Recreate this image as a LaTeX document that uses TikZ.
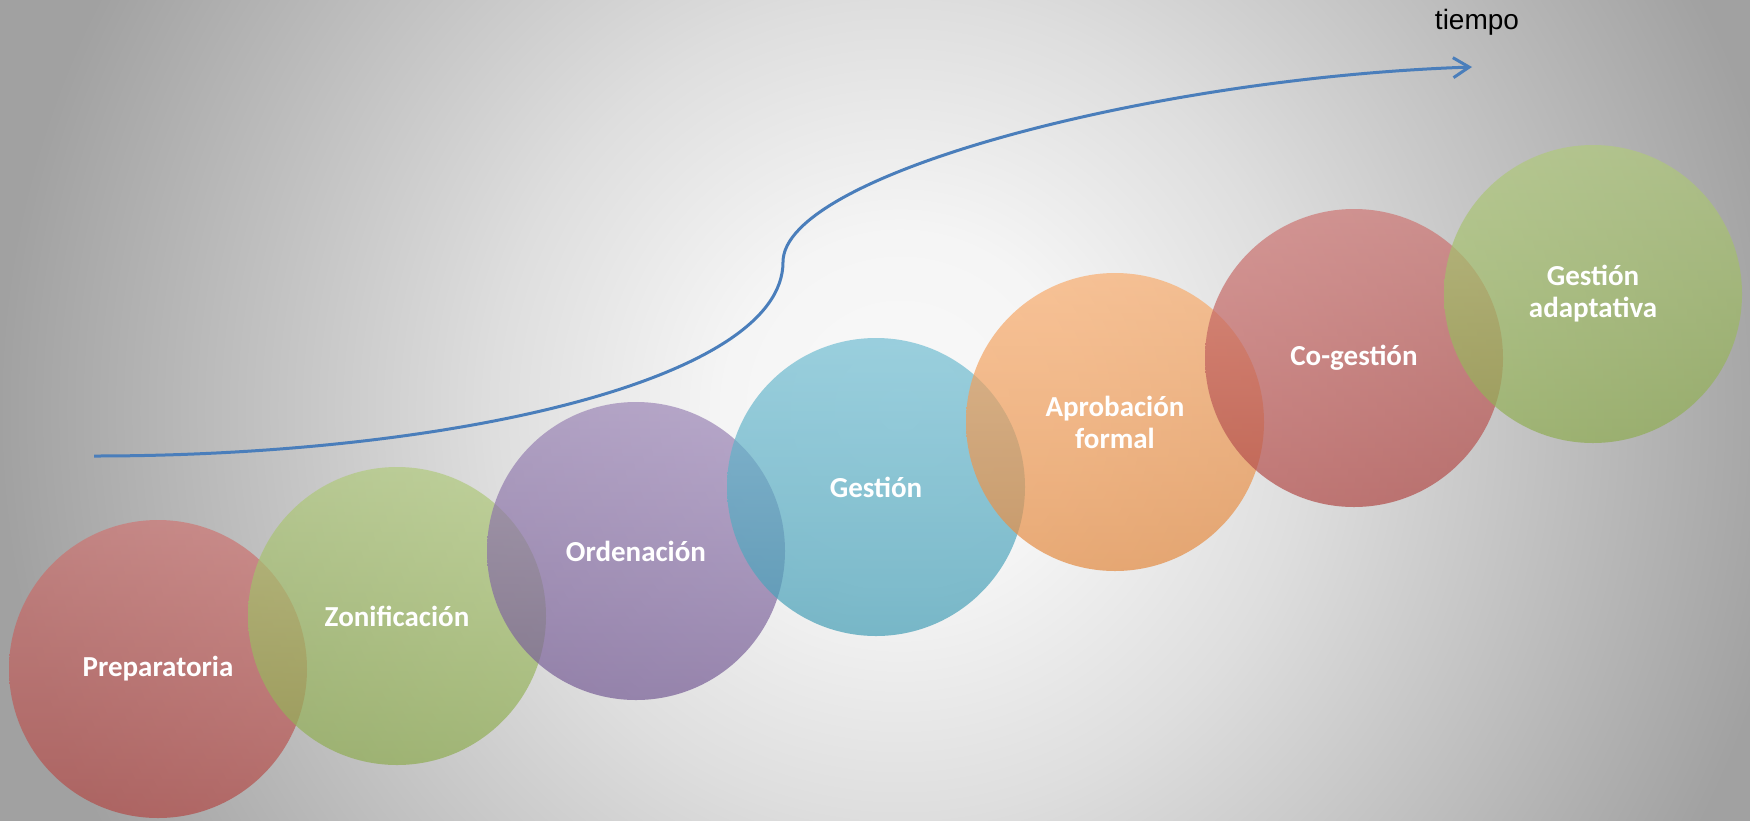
\documentclass[tikz,border=0pt]{standalone}
\usepackage{fontspec}
\setmainfont{Carlito}
\newfontfamily\arialfont{Liberation Sans}
\usetikzlibrary{arrows.meta,shapes,positioning}

\definecolor{bglight}{RGB}{249,249,249}
\definecolor{bgsoft}{RGB}{245,245,245}
\definecolor{bgmid}{RGB}{222,222,222}
\definecolor{bgdark}{RGB}{161,161,161}
\definecolor{lineblue}{RGB}{74,126,187}
\definecolor{cred}{RGB}{192,80,77}
\definecolor{cgreen}{RGB}{155,187,89}
\definecolor{cpurple}{RGB}{128,100,162}
\definecolor{caqua}{RGB}{75,172,198}
\definecolor{corange}{RGB}{247,150,70}

\pgfdeclareradialshading{bgglow}{\pgfpoint{0bp}{0bp}}{color(0bp)=(bglight); color(4bp)=(bgsoft); color(9.25bp)=(bgmid); color(20.5bp)=(bgdark); color(50bp)=(bgdark)}

\tikzset{
  stage/.style={circle, minimum size=149pt, inner sep=0pt, fill opacity=0.7, text opacity=1,
    text=white, align=center, font=\bfseries\fontsize{14.5}{16}\selectfont,
    top color=#1!78!white, bottom color=#1!92!black},
  timeline/.style={lineblue, line width=1.5pt, ->, >={Straight Barb[length=8pt,width=10pt]}}
}

\begin{document}
\begin{tikzpicture}[x=0.5pt,y=-0.5pt]
            \useasboundingbox (0,0) rectangle (1750,820);
            \begin{scope}
                \clip (0,0) rectangle (1750,820);
                \shade[shading=bgglow] (-200,-690) rectangle (2000,1510);
            \end{scope}
            \node[stage=cred] (prep) at (158,669) {Preparatoria};
            \node[stage=cgreen] (zonif) at (397,616) {Zonificación};
            \node[stage=cpurple] (orden) at (636,551) {Ordenación};
            \node[stage=caqua] (gest) at (876,487) {Gestión};
            \node[stage=corange] (aprob) at (1115,422) {Aprobación\\formal};
            \node[stage=cred] (cogest) at (1354,358) {Co-gestión};
            \node[stage=cgreen] (adapt) at (1593,294) {Gestión\\adaptativa};
            \coordinate (tstart) at (94,456);
            \coordinate (tbend) at (783,262);
            \coordinate (tend) at (1472,67);
            \draw[timeline] (tstart) .. controls (450,456) and (783,380) .. (tbend)
                .. controls (783,175) and (1150,78) .. (tend);
            \node[font=\arialfont\fontsize{14}{16}\selectfont] (tiempo) at (1477,22.5) {tiempo};
        \end{tikzpicture}
\end{document}
